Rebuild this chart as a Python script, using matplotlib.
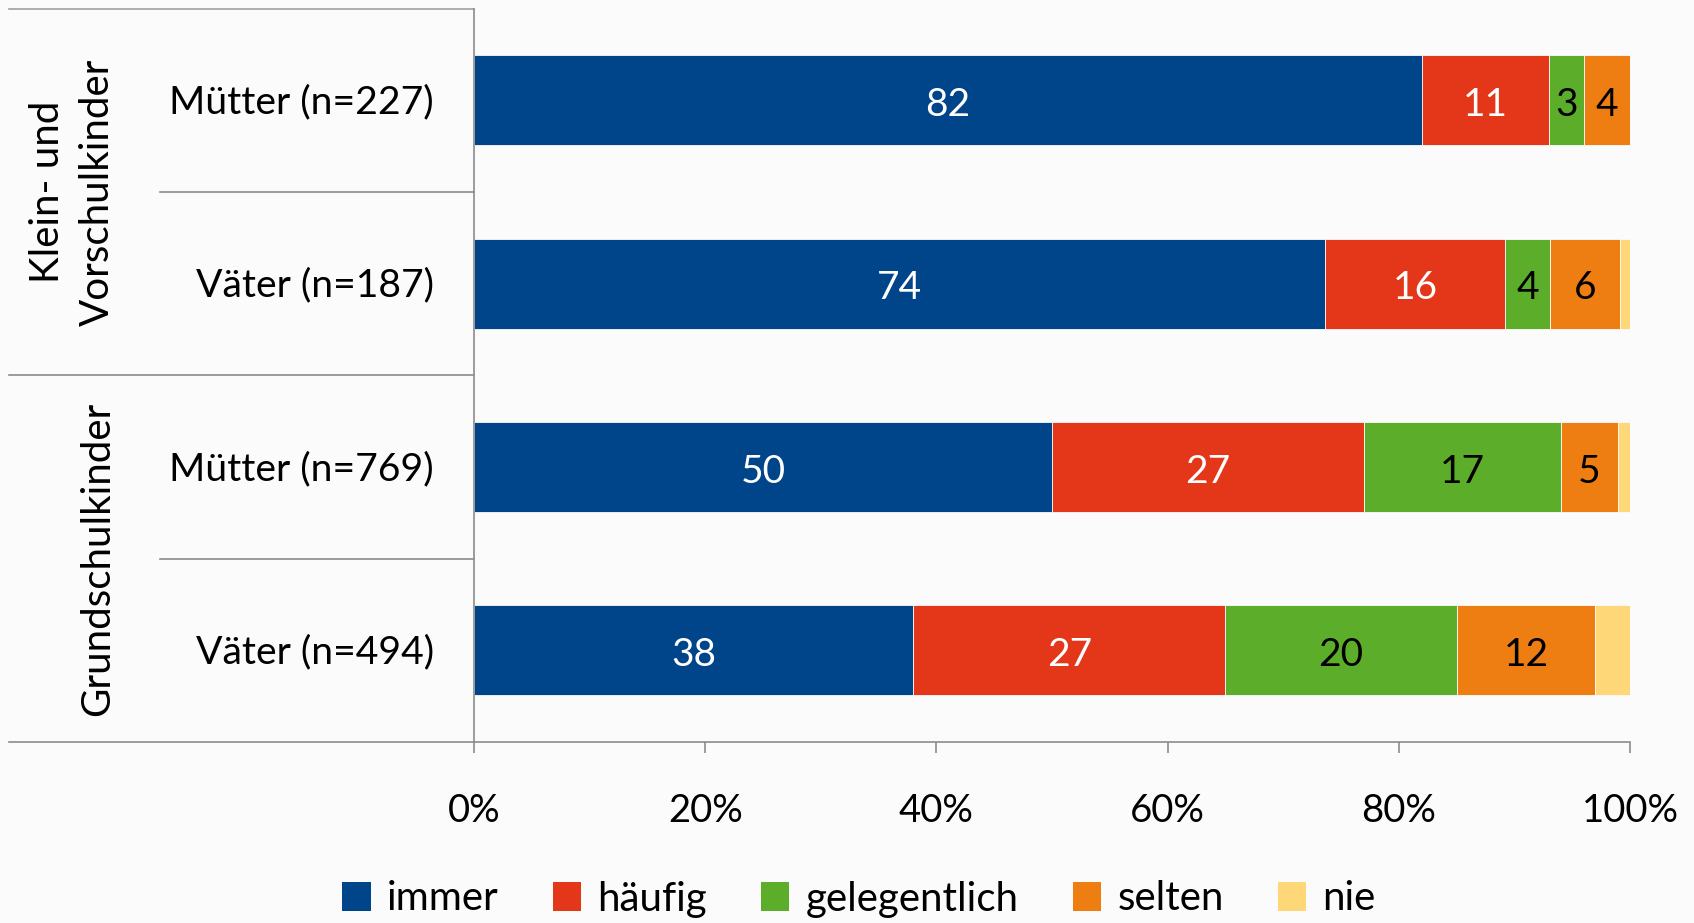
import matplotlib
matplotlib.use("Agg")
import matplotlib.pyplot as plt
from matplotlib.transforms import blended_transform_factory
from matplotlib.patches import Patch

plt.rcParams['font.family'] = ['Lato', 'DejaVu Sans']

# ---- data ----
categories = ["Mütter (n=227)", "Väter (n=187)", "Mütter (n=769)", "Väter (n=494)"]
groups = ["Klein- und\nVorschulkinder", "Grundschulkinder"]
series = ["immer", "häufig", "gelegentlich", "selten", "nie"]
immer = [82.0, 73.6, 50.0, 38.0]
haeufig = [11.0, 15.6, 27.0, 27.0]
gelegentlich = [3.0, 3.9, 17.0, 20.0]
selten = [4.0, 6.0, 5.0, 12.0]
nie = [0.0, 0.9, 1.0, 3.0]
show_labels = [True, True, True, True, False]
xticks = [0, 20, 40, 60, 80, 100]
xtick_labels = ["0%", "20%", "40%", "60%", "80%", "100%"]

colors = ["#00448A", "#E43619", "#5CAD2A", "#EE7D12", "#FED778"]
label_colors = ["white", "white", "black", "black", "black"]
bg = "#FBFBFB"
line_col = "#8C8C8C"

W, H = 1694, 923
fig = plt.figure(figsize=(W / 100, H / 100), dpi=100, facecolor=bg)
ax = fig.add_axes([474 / W, (H - 742) / H, 1156 / W, (742 - 8.6) / H])
ax.set_facecolor(bg)

values = [immer, haeufig, gelegentlich, selten, nie]
ypos = list(range(len(categories)))
left = [0.0] * len(categories)
for s, vals in enumerate(values):
    bars = ax.barh(ypos, vals, left=left, height=0.49, color=colors[s],
                   edgecolor=bg, linewidth=0.6, label=series[s])
    if show_labels[s]:
        for i, (b, v) in enumerate(zip(bars, vals)):
            if v > 0:
                ax.text(left[i] + v / 2, ypos[i] + 0.025, f"{v:.0f}", ha="center", va="center",
                        fontsize=28, color=label_colors[s])
    left = [l + v for l, v in zip(left, vals)]

ax.set_xlim(0, 100)
ax.set_ylim(len(categories) - 0.5, -0.5)
ax.set_yticks([])
ax.set_xticks(xticks)
ax.set_xticklabels(xtick_labels, fontsize=27.5)
ax.tick_params(axis="x", direction="out", length=8, width=1.2, color=line_col, pad=29)
for sp in ["top", "right"]:
    ax.spines[sp].set_visible(False)
ax.spines["left"].set_color(line_col)
ax.spines["bottom"].set_color(line_col)
ax.spines["left"].set_linewidth(1.2)
ax.spines["bottom"].set_linewidth(1.2)

# left table
tr = blended_transform_factory(fig.transFigure, ax.transData)
x_outer = 9 / W
x_inner = 160 / W
x_axis = 474 / W
ax.plot([x_outer, x_axis], [-0.5, -0.5], transform=tr, color="#A0A0A0", lw=1.2, clip_on=False)
ax.plot([x_outer, x_axis], [3.5, 3.5], transform=tr, color=line_col, lw=1.2, clip_on=False)
ax.plot([x_outer, x_axis], [1.5, 1.5], transform=tr, color=line_col, lw=1.2, clip_on=False)
for yb in [0.5, 2.5]:
    ax.plot([x_inner, x_axis], [yb, yb], transform=tr, color=line_col, lw=1.2, clip_on=False)

for i, c in enumerate(categories):
    ax.text(434 / W, ypos[i] + 0.01, c, transform=tr, ha="right", va="center", fontsize=28.2)

group_centers = [0.5, 2.5]
for g, yc in zip(groups, group_centers):
    ax.text(116 / W, yc, g, transform=tr, ha="right", va="center", rotation=90,
            fontsize=29, multialignment="center", linespacing=1.45)

handles = [Patch(facecolor=colors[s], edgecolor="none") for s in range(len(series))]
fig.legend(handles, series, loc="center", bbox_to_anchor=(859 / W, 1 - 899 / H), ncol=5,
           frameon=False, fontsize=29, handlelength=0.7, handleheight=0.7,
           handletextpad=0.4, columnspacing=1.35)

fig.savefig("out.png", dpi=100, facecolor=bg)
